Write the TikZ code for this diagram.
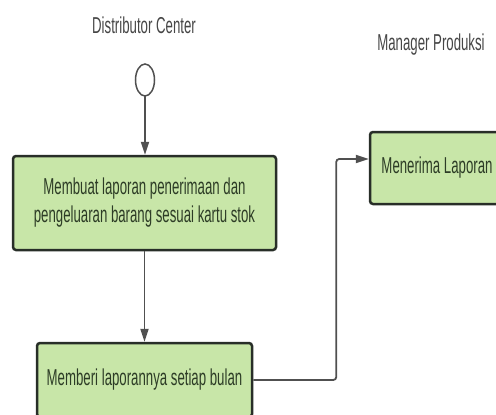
\documentclass[tikz,border=0pt]{standalone}
\usepackage{fontspec}
\setmainfont{Liberation Sans}[FakeStretch=0.575]
\usetikzlibrary{arrows.meta,calc}
\definecolor{boxfill}{RGB}{200,230,168}
\definecolor{boxline}{RGB}{40,46,40}
\definecolor{boxtext}{RGB}{45,60,38}
\definecolor{titletext}{RGB}{70,70,70}
\definecolor{wire}{RGB}{80,80,80}
\tikzset{
  actbox/.style={draw=boxline, line width=2.5pt, fill=boxfill, rounded corners=3pt,
    text=boxtext, align=center, inner sep=0pt, font=\fontsize{23}{28}\selectfont},
  lanetitle/.style={text=titletext, font=\fontsize{23}{28}\selectfont, inner sep=0pt},
  flow/.style={draw=wire, line width=1.8pt, rounded corners=3pt,
    -{Triangle[length=13pt,width=8pt]}},
}
\begin{document}
\begin{tikzpicture}[x=1pt,y=-1pt]
\useasboundingbox (0,0) rectangle (496,415);
\clip (0,0) rectangle (496,415);
\fill[white] (0,0) rectangle (496,415);
\node[lanetitle] (t1) at (144,25) {Distributor Center};
\node[lanetitle] (t2) at (431,45) {Manager Produksi};
\draw[wire, line width=1.5pt, fill=white] (145,80) ellipse [x radius=9.5pt, y radius=16pt];
\coordinate (st) at (145,96);
\node[actbox, minimum width=263pt, minimum height=94pt] (b1) at (144.5,203)
  {Membuat laporan penerimaan dan\\pengeluaran barang sesuai kartu stok};
\node[actbox, minimum width=215pt, minimum height=74pt] (b2) at (144.5,380)
  {Memberi laporannya setiap bulan};
\node[actbox, minimum width=134pt, minimum height=72pt] (b3) at (437,168)
  {Menerima Laporan};
\draw[flow] (st) -- (b1.north -| st);
\draw[flow] (b1.south) -- (b2.north);
\draw[flow] (b2.east) -- ++(83,0) |- ([yshift=9pt]b3.west);
\end{tikzpicture}
\end{document}
